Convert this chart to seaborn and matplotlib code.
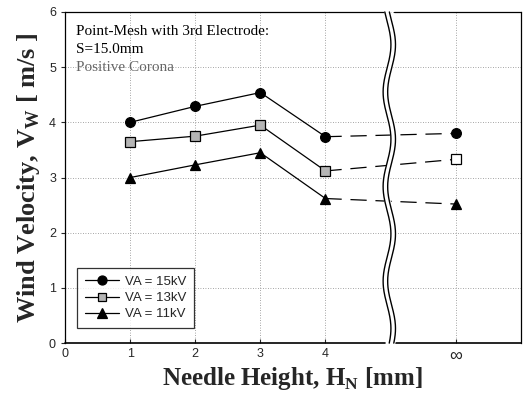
import numpy as np
import pandas as pd
import matplotlib
matplotlib.use("Agg")
import matplotlib.pyplot as plt
from matplotlib.lines import Line2D
import seaborn as sns

# data (x = 6 stands for "infinity")
heights = [1, 2, 3, 4]
inf_pos = 6
v_15kv = [4.00, 4.29, 4.54, 3.74]
v_15kv_inf = 3.80
v_13kv = [3.65, 3.75, 3.95, 3.12]
v_13kv_inf = 3.33
v_11kv = [3.00, 3.23, 3.45, 2.62]
v_11kv_inf = 2.52
series_names = ["VA = 15kV", "VA = 13kV", "VA = 11kV"]
x_ticks = [0, 1, 2, 3, 4, inf_pos]
x_tick_labels = ["0", "1", "2", "3", "4", "\u221e"]
note_lines = ["Point-Mesh with 3rd Electrode:", "S=15.0mm", "Positive Corona"]


def main() -> None:
    sns.set_style("white")
    plt.rcParams['font.family'] = ['Liberation Sans', 'DejaVu Sans']

    fig = plt.figure(figsize=(5.24, 3.99), dpi=100)
    ax = fig.add_axes([0.124, 0.140, 0.870, 0.830])

    styles = [
        dict(marker='o', mfc='black', mec='black', ms=7),
        dict(marker='s', mfc='#b5b5b5', mec='black', ms=6.5),
        dict(marker='^', mfc='black', mec='black', ms=7.5),
    ]
    solid = [v_15kv, v_13kv, v_11kv]
    inf_vals = [v_15kv_inf, v_13kv_inf, v_11kv_inf]

    for name, vals, vinf, st in zip(series_names, solid, inf_vals, styles):
        df = pd.DataFrame({'H': heights, 'V': vals})
        sns.lineplot(data=df, x='H', y='V', ax=ax, color='black', lw=0.9,
                     marker=st['marker'], markerfacecolor=st['mfc'],
                     markeredgecolor=st['mec'], markersize=st['ms'],
                     markeredgewidth=0.9, zorder=4)
        df2 = pd.DataFrame({'H': [heights[-1], inf_pos], 'V': [vals[-1], vinf]})
        sns.lineplot(data=df2, x='H', y='V', ax=ax, color='black', lw=0.9,
                     zorder=3).lines[-1].set_dashes([13, 7])
        fc = 'white' if st['marker'] == 's' else st['mfc']
        ax.plot([inf_pos], [vinf], linestyle='none', marker=st['marker'],
                mfc=fc, mec=st['mec'], ms=st['ms'], mew=0.9, zorder=5)

    ax.set_xlim(0, 7)
    ax.set_ylim(0, 6)
    ax.set_xticks(x_ticks)
    ax.set_xticklabels(x_tick_labels, fontsize=9)
    ax.get_xticklabels()[-1].set_fontsize(13)
    ax.set_yticks(range(7))
    ax.tick_params(axis='y', labelsize=9, length=3, direction='out', left=True)
    ax.tick_params(axis='x', length=3, direction='in', bottom=True)
    ax.grid(True, color='#888888', linestyle=(0, (1, 2)), linewidth=0.6)
    for s in ax.spines.values():
        s.set_color('black')
        s.set_linewidth(0.9)
    ax.spines['top'].set_visible(False)
    ax.spines['bottom'].set_visible(False)
    # top and bottom frame, broken at the wavy gap
    ax.plot([0, 4.9], [6, 6], color='black', lw=0.9, clip_on=False, zorder=6)
    ax.plot([5.05, 7], [6, 6], color='black', lw=0.9, clip_on=False, zorder=6)
    ax.plot([0, 4.92], [0, 0], color='black', lw=1.2, clip_on=False, zorder=6)
    ax.plot([5.07, 7], [0, 0], color='black', lw=1.2, clip_on=False, zorder=6)

    # wavy axis break
    yy = np.linspace(0, 6, 400)
    xw = 4.98 + 0.06 * np.sin(yy / 6 * 2 * np.pi * 3.5 + 0.6)
    ax.fill_betweenx(yy, xw - 0.04, xw + 0.04, color='white', zorder=7, clip_on=False)
    ax.plot(xw - 0.035, yy, color='black', lw=1.0, zorder=8, clip_on=False)
    ax.plot(xw + 0.035, yy, color='black', lw=1.0, zorder=8, clip_on=False)

    for txt, y, col in zip(note_lines, [5.65, 5.32, 5.0], ['black', 'black', '#666666']):
        ax.text(0.17, y, txt, family='Liberation Serif', fontsize=11,
                va='center', ha='left', color=col)

    ax.set_xlabel("Needle Height, H$_\\mathregular{N}$ [mm]", family='Liberation Serif',
                  fontweight='bold', fontsize=18, labelpad=0)
    ax.set_ylabel("Wind Velocity, V$_\\mathregular{W}$ [ m/s ]", family='Liberation Serif',
                  fontweight='bold', fontsize=19, labelpad=5)

    handles = [Line2D([0], [0], color='black', lw=0.9, marker=st['marker'],
                      mfc=st['mfc'], mec=st['mec'], ms=st['ms'] - 0.5, mew=0.9)
               for st in styles]
    leg = ax.legend(handles, series_names, loc='lower left',
                    bbox_to_anchor=(0.012, 0.025), fontsize=9.5, frameon=True,
                    fancybox=False, handlelength=2.6, borderpad=0.6,
                    labelspacing=0.3, handletextpad=0.4)
    leg.get_frame().set_edgecolor('black')
    leg.get_frame().set_linewidth(0.9)
    leg.set_zorder(9)

    fig.savefig("out.png", dpi=100)


if __name__ == "__main__":
    main()
